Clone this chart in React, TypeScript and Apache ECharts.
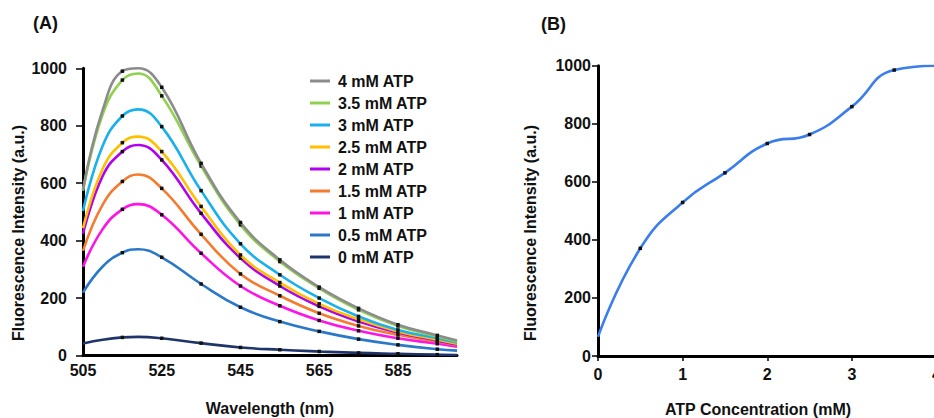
import React, { useEffect, useRef } from "react";
import * as echarts from "echarts";

// Panel A: emission spectra
const wavelengths = [505, 510, 515, 519, 525, 535, 545, 555, 565, 575, 585, 595, 600];
const markedWavelengths = [515, 525, 535, 545, 555, 565, 575, 585, 595];
const atp4 = [577, 855, 990, 1000, 934, 669, 463, 333, 238, 164, 107, 70, 52];
const atp35 = [574, 840, 959, 982, 904, 660, 455, 327, 234, 159, 103, 66, 49];
const atp3 = [503, 730, 834, 857, 797, 574, 389, 281, 200, 136, 89, 60, 45];
const atp25 = [443, 650, 741, 762, 710, 519, 350, 254, 180, 126, 84, 55, 41];
const atp2 = [424, 625, 710, 733, 681, 495, 339, 242, 171, 118, 80, 52, 38];
const atp15 = [364, 525, 606, 630, 582, 422, 284, 208, 147, 103, 72, 49, 36];
const atp1 = [309, 440, 509, 527, 490, 356, 242, 173, 122, 86, 60, 41, 31];
const atp05 = [219, 310, 358, 370, 342, 249, 168, 118, 84, 57, 37, 22, 17];
const atp0 = [42, 55, 63, 65, 60, 43, 28, 20, 14, 9, 6, 3, 2];

const seriesNames = [
  "4 mM ATP",
  "3.5 mM ATP",
  "3 mM ATP",
  "2.5 mM ATP",
  "2 mM ATP",
  "1.5 mM ATP",
  "1 mM ATP",
  "0.5 mM ATP",
  "0 mM ATP",
];
const seriesValues = [atp4, atp35, atp3, atp25, atp2, atp15, atp1, atp05, atp0];
const seriesColors = [
  "#8c8c8c",
  "#8fd14f",
  "#1ab0ec",
  "#ffc000",
  "#b000ee",
  "#f47b30",
  "#ff14e6",
  "#2c78c8",
  "#1f3468",
];

// Panel B: peak intensity vs ATP concentration
const atpConc = [0, 0.5, 1, 1.5, 2, 2.5, 3, 3.5, 4];
const peakIntensity = [66, 371, 529, 631, 732, 763, 859, 985, 1000];

const yTicksA = [0, 200, 400, 600, 800, 1000];

const FONT = "'Liberation Sans', Arial, sans-serif";

export default function App() {
  const ref = useRef<HTMLDivElement>(null);

  useEffect(() => {
    document.body.style.margin = "0";
    if (!ref.current) return;
    const chart = echarts.init(ref.current, undefined, { renderer: "svg" });

    const axisLineStyle = { color: "#000", width: 3 };
    const labelStyle = {
      color: "#111",
      fontSize: 16,
      fontWeight: "bold" as const,
      fontFamily: FONT,
    };
    const plain = (v: number) => String(v);

    const spectraSeries = seriesNames.map((name, i) => ({
      name,
      type: "line",
      xAxisIndex: 0,
      yAxisIndex: 0,
      smooth: 0.45,
      symbol: "rect",
      symbolSize: 3.5,
      showSymbol: true,
      showAllSymbol: true,
      z: 10 - i,
      lineStyle: { color: seriesColors[i], width: 2.6 },
      itemStyle: { color: seriesColors[i] },
      data: wavelengths.map((w, j) => {
        const marked = markedWavelengths.indexOf(w) >= 0;
        return {
          value: [w, seriesValues[i][j]],
          symbol: marked ? "rect" : "none",
          symbolSize: 3.5,
          itemStyle: { color: "#111" },
        };
      }),
    }));

    const option = {
      animation: false,
      backgroundColor: "#fff",
      textStyle: { fontFamily: FONT },
      grid: [
        { left: 83, top: 68.3, width: 374, height: 287.2, outerBoundsMode: "none" },
        { left: 598, top: 65.7, width: 338.5, height: 290.3, outerBoundsMode: "none" },
      ],
      legend: {
        data: seriesNames.map((n, i) => ({ name: n, itemStyle: { color: seriesColors[i] } })),
        orient: "vertical",
        left: 305,
        top: 68,
        icon: "rect",
        itemWidth: 20,
        itemHeight: 3,
        itemGap: 6,
        textStyle: { ...labelStyle, lineHeight: 16, padding: [0, 0, 0, 3] },
      },
      xAxis: [
        {
          type: "value",
          gridIndex: 0,
          min: 505,
          max: 600,
          interval: 20,
          axisLine: { show: true, lineStyle: axisLineStyle },
          axisTick: { show: false },
          splitLine: { show: false },
          axisLabel: { ...labelStyle, margin: 7, showMaxLabel: false, formatter: plain },
        },
        {
          type: "value",
          gridIndex: 1,
          min: 0,
          max: 4,
          interval: 1,
          axisLine: { show: true, lineStyle: axisLineStyle },
          axisTick: { show: true, length: 5, lineStyle: { color: "#000", width: 1.5 } },
          splitLine: { show: false },
          axisLabel: { ...labelStyle, margin: 10, formatter: plain },
        },
      ],
      yAxis: [
        {
          type: "value",
          gridIndex: 0,
          min: yTicksA[0],
          max: yTicksA[yTicksA.length - 1],
          interval: 200,
          axisLine: { show: true, lineStyle: axisLineStyle },
          axisTick: { show: true, length: 7, lineStyle: { color: "#000", width: 1.5 } },
          splitLine: { show: false },
          axisLabel: { ...labelStyle, margin: 16, formatter: plain },
        },
        {
          type: "value",
          gridIndex: 1,
          min: 0,
          max: 1000,
          interval: 200,
          axisLine: { show: true, lineStyle: axisLineStyle },
          axisTick: { show: true, length: 6, lineStyle: { color: "#000", width: 1.5 } },
          splitLine: { show: false },
          axisLabel: { ...labelStyle, margin: 7, formatter: plain },
        },
      ],
      series: [
        ...spectraSeries,
        {
          name: "ATP response",
          type: "line",
          xAxisIndex: 1,
          yAxisIndex: 1,
          smooth: 0.5,
          symbol: "rect",
          symbolSize: 3.5,
          showSymbol: true,
          lineStyle: { color: "#3b7ded", width: 2.6 },
          itemStyle: { color: "#3b7ded" },
          data: atpConc.map((c, j) => ({
            value: [c, peakIntensity[j]],
            symbol: c > 0 && c < 4 ? "rect" : "none",
            symbolSize: 3.5,
            itemStyle: { color: "#111" },
          })),
        },
      ],
      graphic: [
        {
          type: "text",
          left: 33,
          top: 14,
          style: { text: "(A)", font: `bold 18px ${FONT}`, fill: "#111" },
        },
        {
          type: "text",
          left: 541,
          top: 15,
          style: { text: "(B)", font: `bold 18px ${FONT}`, fill: "#111" },
        },
        {
          type: "text",
          x: 18,
          y: 233,
          rotation: Math.PI / 2,
          style: {
            text: "Fluorescence Intensity (a.u.)",
            font: `bold 16px ${FONT}`,
            fill: "#111",
            align: "center",
            verticalAlign: "middle",
          },
        },
        {
          type: "text",
          x: 530,
          y: 233,
          rotation: Math.PI / 2,
          style: {
            text: "Fluorescence Intensity (a.u.)",
            font: `bold 16px ${FONT}`,
            fill: "#111",
            align: "center",
            verticalAlign: "middle",
          },
        },
        {
          type: "text",
          x: 270,
          y: 408,
          style: {
            text: "Wavelength (nm)",
            font: `bold 16px ${FONT}`,
            fill: "#111",
            align: "center",
            verticalAlign: "middle",
          },
        },
        {
          type: "text",
          x: 758,
          y: 409,
          style: {
            text: "ATP Concentration (mM)",
            font: `bold 16px ${FONT}`,
            fill: "#111",
            align: "center",
            verticalAlign: "middle",
          },
        },
      ],
    };

    chart.setOption(option as any);
    return () => chart.dispose();
  }, []);

  return <div ref={ref} style={{ width: 934, height: 418 }} />;
}
